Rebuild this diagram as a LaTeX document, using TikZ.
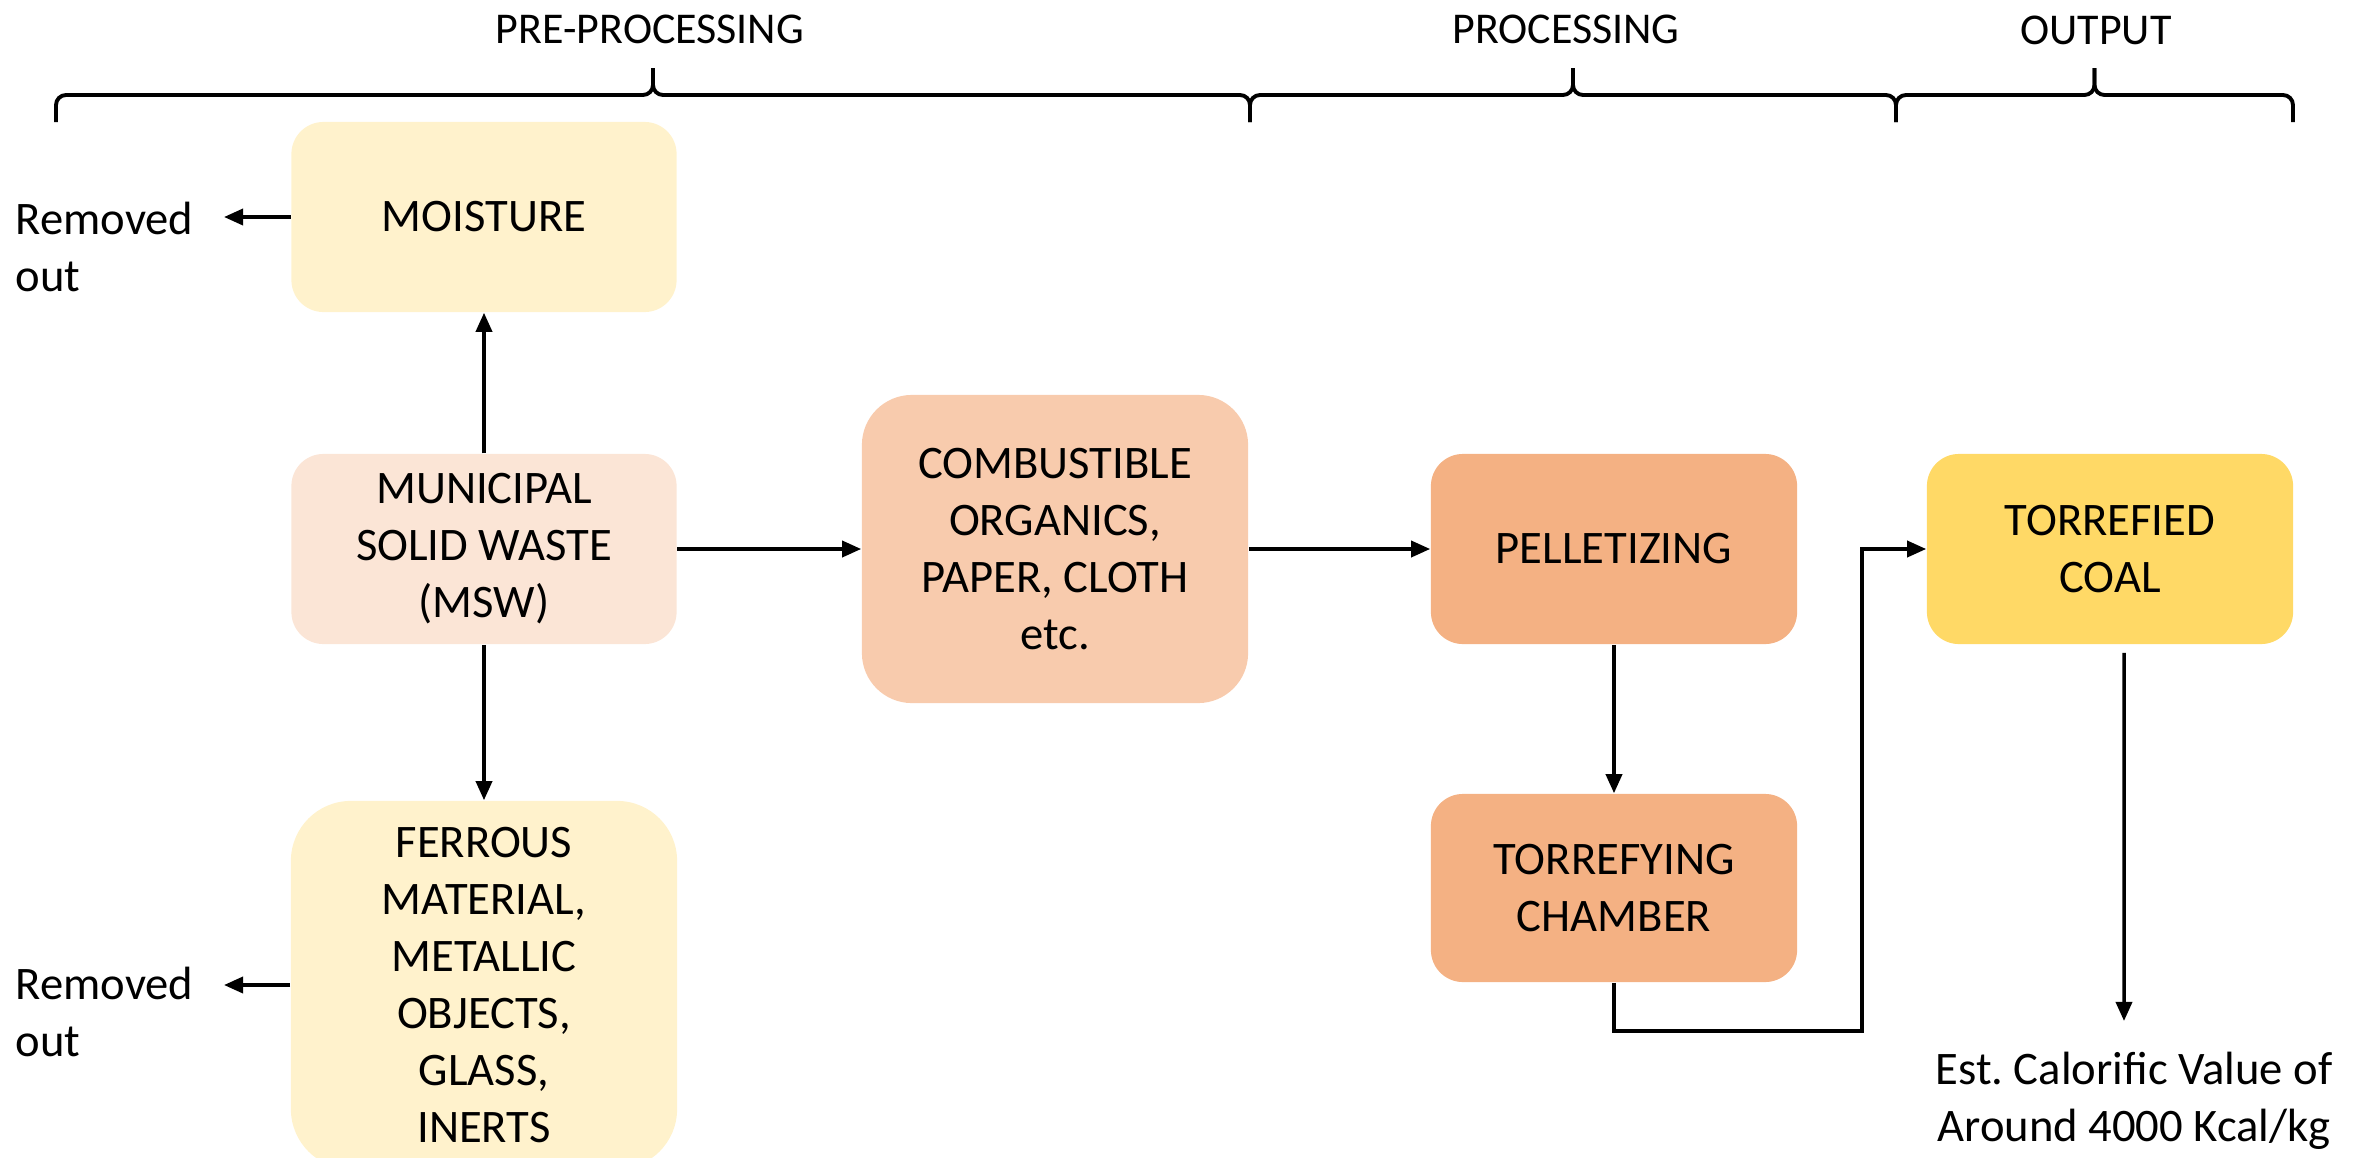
\documentclass[tikz,border=0pt]{standalone}
\usepackage{fontspec}
\setmainfont{Carlito}
\usetikzlibrary{arrows.meta,positioning,calc}
\definecolor{moistcol}{HTML}{FFF2CC}
\definecolor{mswcol}{HTML}{FBE5D6}
\definecolor{combcol}{HTML}{F8CBAD}
\definecolor{pellcol}{HTML}{F4B183}
\definecolor{coalcol}{HTML}{FFD966}

\begin{document}
\begin{tikzpicture}[
      x=0.01cm, y=-0.01cm, % pixel grid, y downwards
      every node/.style={font=\fontsize{13.26pt}{16.2pt}\selectfont, inner sep=0pt},
      box/.style={rounded corners=0.32cm, align=center, minimum width=3.85cm, minimum height=1.9cm},
      stagetitle/.style={font=\fontsize{12.5pt}{15pt}\selectfont, anchor=base},
      sidetext/.style={align=left, anchor=north west},
      arr/.style={line width=1pt, -{Triangle[length=0.19cm,width=0.16cm]}},
      stagebrace/.style={line width=1.1pt, rounded corners=0.1cm}
    ]
\useasboundingbox (0,0) rectangle (2372,1157);

% stage headers
\node[stagetitle] (pre) at (650,43) {PRE-PROCESSING};
\node[stagetitle] (proc) at (1566,43) {PROCESSING};
\node[stagetitle] (outp) at (2096,44) {OUTPUT};
\coordinate (b0) at (56,122);
\coordinate (b1) at (1250,122);
\coordinate (b2) at (1896,122);
\coordinate (b3) at (2293,122);
\foreach \l/\r in {b0/b1,b1/b2,b2/b3}{
  \coordinate (tip) at ($(\l)!0.5!(\r)+(0,-54)$);
  \draw[stagebrace] (\l) -- ++(0,-27) -| (tip);
  \draw[stagebrace] (\r) -- ++(0,-27) -| (tip);
}

% boxes
\node[box, fill=moistcol] (moist) at (484,217) {MOISTURE};
\node[box, fill=mswcol] (msw) at (484,549) {MUNICIPAL\\SOLID WASTE\\(MSW)};
\node[box, fill=moistcol, rounded corners=0.6cm, minimum width=3.86cm, minimum height=3.68cm] (ferr) at (484,985)
  {FERROUS\\MATERIAL,\\METALLIC\\OBJECTS,\\GLASS,\\INERTS};
\node[box, fill=combcol, rounded corners=0.5cm, minimum width=3.86cm, minimum height=3.08cm] (comb) at (1055,549)
  {COMBUSTIBLE\\ORGANICS,\\PAPER, CLOTH\\etc.};
\node[box, fill=pellcol, minimum width=3.66cm] (pell) at (1614,549) {PELLETIZING};
\node[box, fill=pellcol, minimum width=3.66cm, minimum height=1.88cm] (torr) at (1614,888) {TORREFYING\\CHAMBER};
\node[box, fill=coalcol, minimum width=3.66cm] (coal) at (2110,549) {TORREFIED\\COAL};

% side texts
\node[sidetext] (rem1) at (15,201) {Removed\\out};
\node[sidetext] (rem2) at (15,966) {Removed\\out};
\node[align=center, anchor=north] (est) at (2134,1051) {Est.\ Calorific Value of\\Around 4000 Kcal/kg};

% connectors
\coordinate (out1) at (224,217);
\coordinate (out2) at (224,985);
\coordinate (loop) at (1862,1031);
\draw[arr] (moist.west) -- (out1);
\draw[arr] (ferr.west) -- (out2);
\draw[arr] (msw) -- (moist);
\draw[arr] (msw) -- (ferr);
\draw[arr] (msw) -- (comb);
\draw[arr] (comb) -- (pell);
\draw[arr] (pell) -- (torr);
\draw[arr] (torr.south) |- (loop) |- (coal.west);
\draw[arr, shorten <=0.08cm, shorten >=0.3cm] ([xshift=0.14cm]coal.south) -- ([xshift=-0.1cm]est.north);
\end{tikzpicture}
\end{document}
